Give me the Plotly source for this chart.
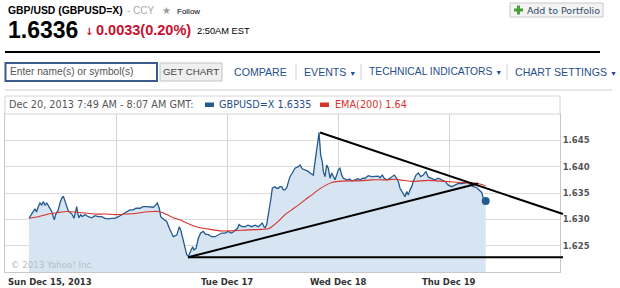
import plotly.graph_objects as go
import pandas as pd

# ---------------- data ----------------
# hours after Sun Dec 15, 2013 00:00 and GBPUSD=X price
price_hours = [5.19, 5.62, 6.12, 6.49, 6.81, 7.20, 7.57, 7.94, 8.28, 8.65, 9.02, 9.36, 9.73, 10.10, 10.44, 10.66,
               10.96, 11.52, 11.89, 12.26, 12.61, 12.97, 13.34, 13.69, 14.21, 14.55, 14.92, 15.29, 15.50, 15.72,
               16.00, 16.37, 16.71, 17.30, 18.01, 18.75, 19.46, 20.17, 20.91, 21.62, 22.34, 23.07, 23.78, 24.50,
               25.23, 25.95, 27.03, 27.74, 28.32, 29.19, 29.84, 30.64, 31.35, 32.06, 32.54, 32.93, 33.36, 33.67,
               34.01, 34.60, 34.96, 35.53, 36.04, 36.39, 37.13, 37.69, 37.99, 38.42, 38.92, 39.29, 39.63, 40.15,
               40.58, 40.87, 41.30, 41.80, 42.31, 42.88, 43.31, 43.96, 44.69, 45.41, 46.12, 46.86, 47.57, 48.28,
               48.86, 49.36, 49.84, 50.31, 50.59, 51.24, 51.89, 52.54, 53.34, 54.05, 54.77, 55.25, 55.63, 56.00,
               56.22, 56.58, 56.86, 57.08, 57.30, 57.51, 57.80, 58.38, 58.75, 59.09, 59.46, 59.83, 60.17, 60.54,
               60.91, 61.25, 61.62, 62.12, 62.38, 62.70, 63.42, 63.78, 64.28, 64.54, 65.02, 65.58, 65.95, 66.66,
               67.03, 67.39, 67.74, 67.89, 68.11, 68.26, 68.61, 68.82, 69.19, 69.56, 69.90, 70.27, 70.64, 70.98,
               71.35, 71.72, 72.07, 72.43, 72.80, 73.15, 73.88, 74.59, 74.96, 75.68, 76.33, 76.76, 77.41, 77.84,
               78.55, 79.29, 80.00, 80.72, 81.08, 81.58, 82.01, 82.53, 83.24, 83.74, 84.17, 84.69, 85.04, 85.41,
               85.99, 86.49, 86.86, 87.20, 87.57, 87.94, 88.28, 88.87, 89.36, 89.88, 90.44, 91.02, 91.52, 92.26,
               92.97, 93.69, 94.42, 95.14, 95.85, 96.59, 97.30, 98.01, 98.75, 99.46, 100.18, 100.70, 101.26,
               101.99, 102.55, 103.07, 103.42, 103.94]
price_values = [1.6302, 1.6309, 1.6315, 1.6320, 1.6314, 1.6324, 1.6331, 1.6327, 1.6334, 1.6327, 1.6331, 1.6326,
                1.6321, 1.6315, 1.6305, 1.6299, 1.6309, 1.6318, 1.6331, 1.6340, 1.6344, 1.6334, 1.6324, 1.6316,
                1.6312, 1.6309, 1.6302, 1.6315, 1.6324, 1.6312, 1.6303, 1.6309, 1.6305, 1.6309, 1.6305, 1.6303,
                1.6307, 1.6305, 1.6305, 1.6302, 1.6301, 1.6302, 1.6302, 1.6305, 1.6309, 1.6312, 1.6318, 1.6318,
                1.6321, 1.6321, 1.6324, 1.6324, 1.6323, 1.6323, 1.6327, 1.6331, 1.6321, 1.6305, 1.6302, 1.6299,
                1.6296, 1.6283, 1.6274, 1.6267, 1.6270, 1.6286, 1.6280, 1.6264, 1.6248, 1.6233, 1.6230, 1.6242,
                1.6248, 1.6242, 1.6245, 1.6264, 1.6274, 1.6277, 1.6272, 1.6271, 1.6267, 1.6267, 1.6271, 1.6274,
                1.6274, 1.6277, 1.6274, 1.6276, 1.6280, 1.6283, 1.6290, 1.6286, 1.6286, 1.6289, 1.6286, 1.6289,
                1.6286, 1.6290, 1.6293, 1.6286, 1.6284, 1.6290, 1.6303, 1.6315, 1.6329, 1.6340, 1.6359, 1.6362,
                1.6359, 1.6359, 1.6362, 1.6362, 1.6356, 1.6356, 1.6360, 1.6372, 1.6381, 1.6388, 1.6391, 1.6397,
                1.6400, 1.6403, 1.6396, 1.6395, 1.6393, 1.6391, 1.6388, 1.6384, 1.6409, 1.6428, 1.6454, 1.6465,
                1.6447, 1.6422, 1.6409, 1.6391, 1.6381, 1.6403, 1.6397, 1.6378, 1.6388, 1.6381, 1.6375, 1.6384,
                1.6394, 1.6397, 1.6384, 1.6378, 1.6375, 1.6376, 1.6373, 1.6375, 1.6377, 1.6375, 1.6378, 1.6378,
                1.6383, 1.6381, 1.6381, 1.6382, 1.6379, 1.6384, 1.6378, 1.6375, 1.6378, 1.6381, 1.6384, 1.6378,
                1.6372, 1.6359, 1.6350, 1.6343, 1.6353, 1.6346, 1.6356, 1.6362, 1.6372, 1.6384, 1.6388, 1.6381,
                1.6384, 1.6391, 1.6380, 1.6378, 1.6375, 1.6378, 1.6375, 1.6372, 1.6365, 1.6362, 1.6365, 1.6368,
                1.6368, 1.6369, 1.6370, 1.6365, 1.6362, 1.6360, 1.6356, 1.6351, 1.6340, 1.6335]

ema_hours = [5.19, 7.20, 9.36, 11.52, 13.34, 15.14, 17.30, 19.46, 21.62, 23.78, 25.95, 28.11, 30.27, 32.0, 33.08,
             33.95, 34.96, 36.39, 37.84, 39.29, 40.71, 42.16, 43.61, 45.04, 46.49, 49.02, 52.61, 55.50, 56.93,
             57.67, 59.09, 60.54, 61.99, 63.42, 64.86, 66.31, 67.74, 69.19, 70.64, 72.07, 74.23, 76.39, 79.29,
             82.16, 84.32, 85.41, 87.94, 91.52, 95.14, 98.75, 101.62, 103.42, 103.94]
ema_values = [1.6302, 1.6305, 1.6310, 1.6313, 1.6315, 1.6314, 1.6312, 1.6310, 1.6310, 1.6309, 1.6310, 1.6311,
              1.6314, 1.6315, 1.6315, 1.6313, 1.6309, 1.6303, 1.6299, 1.6293, 1.6288, 1.6284, 1.6282, 1.6280,
              1.6278, 1.6278, 1.6280, 1.6281, 1.6282, 1.6286, 1.6296, 1.6309, 1.6318, 1.6327, 1.6337, 1.6346,
              1.6356, 1.6364, 1.6370, 1.6372, 1.6373, 1.6373, 1.6375, 1.6375, 1.6376, 1.6375, 1.6372, 1.6374,
              1.6372, 1.6370, 1.6369, 1.6365, 1.6363]

# hand-drawn trend lines: (start hour, start price, end hour, end price)
trend_lines = [
    (39.57, 1.6228, 120.65, 1.6228),   # support
    (39.57, 1.6228, 102.27, 1.6368),   # rising
    (68.11, 1.6465, 120.65, 1.6310),   # falling
]

day_ticks = [0, 1, 2, 3, 4]
day_labels = ["Sun Dec 15, 2013", "", "Tue Dec 17", "Wed Dec 18", "Thu Dec 19"]
y_ticks = [1.625, 1.630, 1.635, 1.640, 1.645]

# ---------------- layout geometry ----------------
W, H = 620, 288
ML, MR, MT, MB = 5, 60, 114, 16
PW = W - ML - MR
PH = H - MT - MB
X0 = pd.Timestamp("2013-12-15")
HOURS = 120.0
Y0, Y1 = 1.620, 1.650


def PX(x):
    return (x - ML) / PW


def PY(y):
    return (H - MB - y) / PH


def t(hours):
    return X0 + pd.to_timedelta(pd.Series(hours), unit="h")


BLUE = "#245a8f"
RED = "#d7322b"
FILL = "#d6e5f1"

fig = go.Figure()
fig.add_trace(go.Scatter(x=t(price_hours), y=price_values, mode="lines", fill="tozeroy",
                         fillcolor=FILL, line=dict(color=BLUE, width=1.3), hoverinfo="skip"))
fig.add_trace(go.Scatter(x=t(ema_hours), y=ema_values, mode="lines",
                         line=dict(color=RED, width=1.1, shape="spline", smoothing=0.6), hoverinfo="skip"))
fig.add_trace(go.Scatter(x=t(price_hours[-1:]), y=price_values[-1:], mode="markers",
                         marker=dict(color=BLUE, size=8), hoverinfo="skip"))

shapes = []
annotations = []

# trend lines in paper coords derived from data values
for h0, p0, h1, p1 in trend_lines:
    shapes.append(dict(type="line", xref="paper", yref="paper",
                       x0=h0 / HOURS, y0=(p0 - Y0) / (Y1 - Y0),
                       x1=h1 / HOURS, y1=(p1 - Y0) / (Y1 - Y0),
                       line=dict(color="#000", width=2), layer="above"))


def txt(x, y, s, size, color, family="Liberation Sans", bold=False, anchor="left"):
    annotations.append(dict(x=PX(x), y=PY(y), xref="paper", yref="paper",
                            text=("<b>%s</b>" % s) if bold else s, showarrow=False,
                            xanchor=anchor, yanchor="middle", borderpad=0,
                            font=dict(family=family, size=size, color=color)))


def rect(x0, y0, x1, y1, fill=None, line="#ccc", width=1, layer="above"):
    shapes.append(dict(type="rect", xref="paper", yref="paper", x0=PX(x0), x1=PX(x1),
                       y0=PY(y0), y1=PY(y1), fillcolor=fill if fill else "rgba(0,0,0,0)",
                       line=dict(color=line, width=width), layer=layer))


def hline(x0, x1, y, color, width=1):
    shapes.append(dict(type="line", xref="paper", yref="paper", x0=PX(x0), x1=PX(x1),
                       y0=PY(y), y1=PY(y), line=dict(color=color, width=width)))


def vline(x, y0, y1, color, width=1):
    shapes.append(dict(type="line", xref="paper", yref="paper", x0=PX(x), x1=PX(x),
                       y0=PY(y0), y1=PY(y1), line=dict(color=color, width=width)))


# header
txt(7, 10.5, "GBP/USD (GBPUSD=X)", 10.4, "#000", bold=True)
txt(126, 10.5, "- CCY", 10, "#aaa")
txt(161, 10, "★", 10, "#9a9a9a", family="DejaVu Sans")
txt(176, 11, "Follow", 8, "#000")
rect(510, 3, 603, 17, fill="#f3f3f3", line="#c9c9c9")
rect(514, 8.5, 523, 11.5, fill="#4a9e3a", line="#4a9e3a", width=0)
rect(517, 5.5, 520, 14.5, fill="#4a9e3a", line="#4a9e3a", width=0)
txt(526, 10.5, "Add to Portfolio", 9.5, "#2e4a68", family="DejaVu Sans")
txt(7, 29.5, "1.6336", 23, "#000", bold=True)
txt(84, 31, "↓", 10, "#c8102e", family="DejaVu Sans", bold=True)
txt(95, 29.5, "0.0033(0.20%)", 14.5, "#c8102e", bold=True)
txt(196, 31, "2:50AM EST", 9.3, "#000")
hline(5, 600, 52, "#000", 2)

# navigation bar
rect(5.5, 63, 157, 81, fill="#fff", line="#3b5b8c", width=2)
txt(9, 72, "Enter name(s) or symbol(s)", 10.2, "#555")
rect(160, 63, 222, 81, fill="#efefef", line="#c4c4c4")
txt(191, 72, "GET CHART", 9.8, "#444", anchor="center")
NAV = "#1f4e8c"
tri = ' <span style="font-size:7px">▼</span>'
txt(233, 72, "COMPARE", 10.6, NAV)
vline(296, 64, 80, "#d0d0d0")
txt(303, 72, "EVENTS" + tri, 10.6, NAV)
vline(361, 64, 80, "#d0d0d0")
txt(368, 72, "TECHNICAL INDICATORS" + tri, 10.3, NAV)
vline(507, 64, 80, "#d0d0d0")
txt(514, 72, "CHART SETTINGS" + tri, 10.6, NAV)
hline(5, 612, 90, "#cfcfcf")

# chart legend header
rect(5, 96, 560, 114, fill="#fff", line="#d4d4d4")
txt(8, 105, "Dec 20, 2013 7:49 AM - 8:07 AM GMT:", 9.7, "#555", family="DejaVu Sans")
rect(205, 102.5, 214, 107, fill=BLUE, line=BLUE, width=0)
txt(218, 105, "GBPUSD=X %.4f" % price_values[-1], 9.7, NAV, family="DejaVu Sans")
rect(320, 102.5, 329, 107, fill=RED, line=RED, width=0)
txt(334, 105, "EMA(200) %.2f" % ema_values[-1], 9.7, RED, family="DejaVu Sans")

# watermark
txt(10, 264.5, "© 2013 Yahoo! Inc.", 8.6, "#b3bec6", family="DejaVu Sans")

# x tick labels as annotations (first one left-aligned)
for d, lab in zip(day_ticks, day_labels):
    if not lab:
        continue
    annotations.append(dict(x=X0 + pd.Timedelta(days=d), xref="x", y=PY(282), yref="paper",
                            text="<b>%s</b>" % lab, showarrow=False,
                            xanchor="left" if d == 0 else "center", xshift=2 if d == 0 else 0,
                            yanchor="middle", borderpad=0,
                            font=dict(family="DejaVu Sans", size=8.5, color="#333")))

fig.update_layout(
    width=W, height=H, margin=dict(l=ML, r=MR, t=MT, b=MB),
    paper_bgcolor="#fff", plot_bgcolor="#fff", showlegend=False, hovermode=False,
    shapes=shapes, annotations=annotations,
    xaxis=dict(type="date", range=[X0, X0 + pd.Timedelta(hours=HOURS)],
               tickvals=[X0 + pd.Timedelta(days=d) for d in day_ticks[1:]],
               showticklabels=False, showgrid=True, gridcolor="#d3d3d3", gridwidth=1,
               showline=True, mirror=True, linecolor="#c8c8c8", linewidth=1, zeroline=False, ticks=""),
    yaxis=dict(side="right", range=[Y0, Y1], tickvals=y_ticks,
               ticktext=["<b>%.3f</b>" % v for v in y_ticks],
               tickfont=dict(family="DejaVu Sans", size=8.5, color="#555"),
               showgrid=True, gridcolor="#dcdcdc", gridwidth=1,
               showline=True, mirror=True, linecolor="#c8c8c8", linewidth=1, zeroline=False, ticks=""),
)

fig.write_html("out.html", config={"displayModeBar": False})
